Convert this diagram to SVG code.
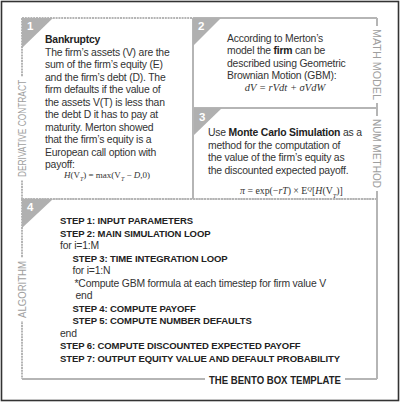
<svg xmlns="http://www.w3.org/2000/svg" width="400" height="402" viewBox="0 0 400 402">
<style>
.frame{fill:#fff;stroke:#333;stroke-width:1.6}
.edge{fill:none;stroke:#b5b5b5;stroke-width:2}
.dot{fill:none;stroke:#b5b5b5;stroke-width:2;stroke-dasharray:2 0.8}
.tri{fill:#b0b0b0}
.num{font-family:"Liberation Sans",Arial,sans-serif;font-weight:bold;font-size:11.5px;fill:#fff}
.body{font-family:"Liberation Sans",Arial,sans-serif;font-size:10.4px;letter-spacing:-0.2px;fill:#333}
.b{font-weight:bold;fill:#222}
.step{font-family:"Liberation Sans",Arial,sans-serif;font-size:9.5px;letter-spacing:-0.1px;font-weight:bold;fill:#222}
.math{font-family:"Liberation Serif","Times New Roman",serif;fill:#333}
.vlab{font-family:"Liberation Sans",Arial,sans-serif;font-size:11px;fill:#9e9e9e;text-anchor:middle}
.title{font-family:"Liberation Sans",Arial,sans-serif;font-size:10px;font-weight:bold;fill:#222}
.mask{fill:#fff}
</style>
<rect class="frame" x="1.5" y="1.5" width="397" height="399"/>

<g id="box1">
  <line class="dot" x1="22" y1="18" x2="193" y2="18"/>
  <line class="dot" x1="22" y1="18" x2="22" y2="199"/>
  <line class="dot" x1="22" y1="199" x2="193" y2="199"/>
  <polygon class="tri" points="22,18 53,18 22,48"/>
  <text class="num" x="27" y="30">1</text>
  <text class="body b" x="45" y="42.7">Bankruptcy</text>
  <text class="body" x="45" y="55.7">The firm’s assets (V) are the</text>
  <text class="body" x="45" y="68.2">sum of the firm’s equity (E)</text>
  <text class="body" x="45" y="80.7">and the firm’s debt (D). The</text>
  <text class="body" x="45" y="93.2">firm defaults if the value of</text>
  <text class="body" x="45" y="105.7">the assets V(T) is less than</text>
  <text class="body" x="45" y="118.2">the debt D it has to pay at</text>
  <text class="body" x="45" y="130.7">maturity. Merton showed</text>
  <text class="body" x="45" y="143.2">that the firm’s equity is a</text>
  <text class="body" x="45" y="155.7">European call option with</text>
  <text class="body" x="45" y="168.2">payoff:</text>
  <text class="math" x="107" y="177.5" font-size="9" text-anchor="middle"><tspan font-style="italic">H</tspan>(V<tspan font-size="6" baseline-shift="sub" font-style="italic">T</tspan>) = max(V<tspan font-size="6" baseline-shift="sub" font-style="italic">T</tspan> − <tspan font-style="italic">D</tspan>,0)</text>
</g>

<g id="box2">
  <line class="edge" x1="193" y1="18" x2="377" y2="18"/>
  <line class="edge" x1="193" y1="18" x2="193" y2="199"/>
  <line class="edge" x1="377" y1="18" x2="377" y2="108"/>
  <polygon class="tri" points="193,18 221,18 193,46"/>
  <text class="num" x="198" y="30">2</text>
  <text class="body" x="227" y="41.7">According to Merton’s</text>
  <text class="body" x="227" y="54.2">model the <tspan class="b">firm</tspan> can be</text>
  <text class="body" x="227" y="66.7">described using Geometric</text>
  <text class="body" x="227" y="79.2">Brownian Motion (GBM):</text>
  <text class="math" x="285" y="90.5" font-size="10.5" font-style="italic" text-anchor="middle">dV = rVdt + σVdW</text>
</g>

<g id="box3">
  <line class="edge" x1="193" y1="108" x2="377" y2="108"/>
  <line class="edge" x1="377" y1="108" x2="377" y2="199"/>
  <line class="dot" x1="193" y1="199" x2="377" y2="199"/>
  <polygon class="tri" points="194,108 222,108 194,135"/>
  <text class="num" x="199" y="121">3</text>
  <text class="body" x="208" y="136.3">Use <tspan class="b">Monte Carlo Simulation</tspan> as a</text>
  <text class="body" x="208" y="148.8">method for the computation of</text>
  <text class="body" x="208" y="161.3">the value of the firm’s equity as</text>
  <text class="body" x="208" y="173.8">the discounted expected payoff.</text>
  <text class="math" x="291.5" y="194" font-size="9.8" text-anchor="middle"><tspan font-style="italic">π</tspan> = exp(−<tspan font-style="italic">rT</tspan>) × E<tspan font-size="6.5" baseline-shift="super" font-style="italic">Q</tspan>[<tspan font-style="italic">H</tspan>(V<tspan font-size="6.5" baseline-shift="sub" font-style="italic">T</tspan>)]</text>
</g>

<g id="box4">
  <line class="dot" x1="22" y1="199" x2="377" y2="199"/>
  <line class="dot" x1="22" y1="199" x2="22" y2="379"/>
  <line class="edge" x1="377" y1="199" x2="377" y2="379"/>
  <line class="edge" x1="22" y1="379" x2="377" y2="379"/>
  <polygon class="tri" points="22,199 53,199 22,228"/>
  <text class="num" x="27" y="211">4</text>
  <text class="step" x="60" y="224">STEP 1: INPUT PARAMETERS</text>
  <text class="step" x="60" y="236.5">STEP 2: MAIN SIMULATION LOOP</text>
  <text class="body" x="60" y="249">for i=1:M</text>
  <text class="step" x="72.5" y="261.5">STEP 3: TIME INTEGRATION LOOP</text>
  <text class="body" x="72.5" y="274">for i=1:N</text>
  <text class="body" x="74.5" y="286.5">*Compute GBM formula at each timestep for firm value V</text>
  <text class="body" x="75.5" y="299">end</text>
  <text class="step" x="72.5" y="311.5">STEP 4: COMPUTE PAYOFF</text>
  <text class="step" x="72.5" y="324">STEP 5: COMPUTE NUMBER DEFAULTS</text>
  <text class="body" x="60" y="336.5">end</text>
  <text class="step" x="60" y="349">STEP 6: COMPUTE DISCOUNTED EXPECTED PAYOFF</text>
  <text class="step" x="60" y="361.5">STEP 7: OUTPUT EQUITY VALUE AND DEFAULT PROBABILITY</text>
</g>

<g id="labels">
  <rect class="mask" x="15" y="77" width="14" height="103"/>
  <text class="vlab" transform="translate(26,128.5) rotate(-90)" textLength="97" lengthAdjust="spacingAndGlyphs">DERIVATIVE CONTRACT</text>
  <rect class="mask" x="370" y="26" width="14" height="77"/>
  <text class="vlab" transform="translate(373,64.5) rotate(90)" textLength="71" lengthAdjust="spacingAndGlyphs">MATH MODEL</text>
  <rect class="mask" x="370" y="116" width="14" height="75"/>
  <text class="vlab" transform="translate(373,153.5) rotate(90)" textLength="69" lengthAdjust="spacingAndGlyphs">NUM METHOD</text>
  <rect class="mask" x="15" y="258" width="14" height="63"/>
  <text class="vlab" transform="translate(26,289.5) rotate(-90)" textLength="57" lengthAdjust="spacingAndGlyphs">ALGORITHM</text>
  <rect class="mask" x="205" y="373" width="140" height="13"/>
  <text class="title" x="209" y="383.5" textLength="132" lengthAdjust="spacingAndGlyphs">THE BENTO BOX TEMPLATE</text>
</g>
</svg>
